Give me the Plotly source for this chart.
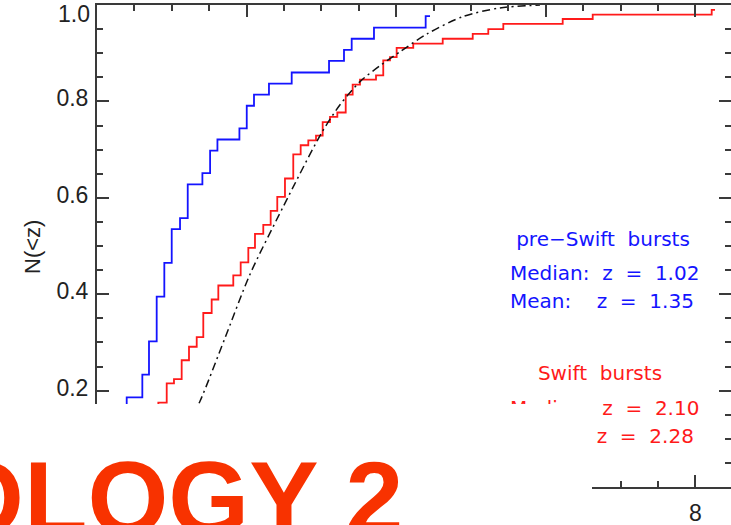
import plotly.graph_objects as go

# ---------------- data ----------------
# pre-Swift bursts: cumulative redshift distribution (step positions / levels)
pre_z = [0.01, 0.10, 0.17, 0.25, 0.34, 0.36, 0.397, 0.606, 0.695, 0.798, 0.900, 0.999,
         1.110, 1.213, 1.409, 1.512, 1.610, 1.904, 2.002, 2.099, 2.299, 2.603,
         3.102, 3.302, 3.405, 3.703, 4.394, 4.452]
pre_N = [0.023, 0.047, 0.070, 0.093, 0.116, 0.163, 0.186, 0.233, 0.302, 0.395, 0.465, 0.535,
         0.558, 0.628, 0.651, 0.698, 0.721, 0.744, 0.791, 0.814, 0.837, 0.860,
         0.884, 0.907, 0.930, 0.953, 0.977, 0.977]

# Swift bursts
swift_z = [0.03, 0.13, 0.26, 0.35, 0.44, 0.55, 0.61, 0.65, 0.70, 0.74, 0.78,
           0.82, 0.932, 1.029, 1.132, 1.230, 1.333, 1.421, 1.533, 1.622, 1.822, 1.921,
           2.023, 2.112, 2.223, 2.322, 2.410, 2.513, 2.624, 2.723, 2.825, 2.928,
           3.017, 3.115, 3.213, 3.325, 3.418, 3.516, 3.730, 3.827, 3.917, 4.006,
           4.228, 4.622, 5.023, 5.231, 5.432, 6.226, 6.627, 8.218, 8.262]
swift_N = [0.010, 0.019, 0.029, 0.039, 0.058, 0.078, 0.097, 0.117, 0.136, 0.155, 0.165,
           0.175, 0.215, 0.224, 0.263, 0.291, 0.311, 0.361, 0.389, 0.418, 0.439, 0.466,
           0.496, 0.525, 0.544, 0.573, 0.602, 0.640, 0.690, 0.709, 0.719, 0.729,
           0.757, 0.768, 0.777, 0.814, 0.835, 0.845, 0.854, 0.885, 0.892, 0.911,
           0.920, 0.930, 0.940, 0.950, 0.961, 0.971, 0.980, 0.990, 0.990]

# model curve (dash-dot)
model_z = [1.25, 1.377, 1.711, 2.045, 2.491, 3.004, 3.249, 3.516, 3.783, 4.051,
           4.412, 4.893, 5.388, 5.922]
model_N = [0.14, 0.178, 0.309, 0.441, 0.582, 0.735, 0.793, 0.841, 0.874, 0.903,
           0.940, 0.976, 0.994, 1.000]

x_tickvals = [0, 2, 4, 6, 8]
x_ticktext = ["", "", "", "", "8"]          # labels 0-6 are hidden behind the slide panel
y_tickvals = [0.0, 0.2, 0.4, 0.6, 0.8, 1.0]
y_ticktext = ["", "0.2", "0.4", "0.6", "0.8", ""]

NB = "\u00a0"
pre_labels = ["pre\u2212Swift" + NB * 2 + "bursts",
              "Median:" + NB * 2 + "z" + NB * 2 + "=" + NB * 2 + "1.02",
              "Mean:" + NB * 4 + "z" + NB * 2 + "=" + NB * 2 + "1.35"]
swift_labels = ["Swift" + NB * 2 + "bursts",
                "Median:" + NB * 2 + "z" + NB * 2 + "=" + NB * 2 + "2.10",
                "Mean:" + NB * 4 + "z" + NB * 2 + "=" + NB * 2 + "2.28"]
title_text = "COSMOLOGY 2"

# ---------------- layout geometry ----------------
W, H = 731, 525
L, R, T, B = 97, 731, 5, 487
XMAX = 8.476


def px_x(px):
    return (px - L) / (R - L)


def px_y(py):
    return (B - py) / (B - T)


def dx(px):
    return (px - L) / (R - L) * XMAX


def dy(py):
    return (B - py) / (B - T)


AX = "#3a3a3a"
BLUE = "#1414ff"
RED = "#ff1a1a"

fig = go.Figure()
fig.add_trace(go.Scatter(x=pre_z, y=pre_N, mode="lines", line=dict(color=BLUE, width=1.8, shape="hv"),
                         showlegend=False, hoverinfo="skip"))
fig.add_trace(go.Scatter(x=swift_z, y=swift_N, mode="lines", line=dict(color=RED, width=1.8, shape="hv"),
                         showlegend=False, hoverinfo="skip"))
fig.add_trace(go.Scatter(x=model_z, y=model_N, mode="lines",
                         line=dict(color="#111111", width=1.5, dash="8px,4px,2px,4px", shape="spline", smoothing=0.8),
                         showlegend=False, hoverinfo="skip"))

txt_font = dict(family="DejaVu Sans", size=20)
fig.add_trace(go.Scatter(
    x=[dx(603), dx(510), dx(510)], y=[dy(241), dy(275), dy(303)],
    mode="text", text=pre_labels, textposition=["middle center", "middle right", "middle right"],
    textfont=dict(color=BLUE, **txt_font), showlegend=False, hoverinfo="skip", cliponaxis=False))
fig.add_trace(go.Scatter(
    x=[dx(600), dx(510), dx(510)], y=[dy(375), dy(410), dy(438)],
    mode="text", text=swift_labels, textposition=["middle center", "middle right", "middle right"],
    textfont=dict(color=RED, **txt_font), showlegend=False, hoverinfo="skip", cliponaxis=False))

axis_common = dict(showline=True, linecolor=AX, linewidth=2, mirror="ticks", ticks="inside",
                   ticklen=12, tickwidth=2, tickcolor=AX, showgrid=False, zeroline=False,
                   tickfont=dict(family="Liberation Sans, Arial", size=23, color="#222222"),
                   tickmode="array", automargin=False)
fig.update_xaxes(range=[0, XMAX], tickvals=x_tickvals, ticktext=x_ticktext, ticklabelstandoff=4,
                 minor=dict(ticks="inside", ticklen=6, tickwidth=2, tickcolor=AX, dtick=0.5, tick0=0),
                 **axis_common)
fig.update_yaxes(range=[0, 1], tickvals=y_tickvals, ticktext=y_ticktext,
                 ticklabelstandoff=2, ticklabelshift=-3,
                 minor=dict(ticks="inside", ticklen=6, tickwidth=2, tickcolor=AX, dtick=0.05, tick0=0),
                 **axis_common)

# white panel covering lower-left part of the slide
fig.add_shape(type="rect", xref="paper", yref="paper",
              x0=px_x(-20), x1=px_x(592), y0=px_y(560), y1=px_y(404),
              fillcolor="white", line=dict(width=0), layer="above")

annotations = [
    dict(text="1.0", xref="paper", yref="paper", x=px_x(92), y=px_y(13.5), xanchor="right", yanchor="middle",
         showarrow=False, font=dict(family="Liberation Sans, Arial", size=23, color="#222222")),
    dict(text="N(<z)", xref="paper", yref="paper", x=px_x(32), y=px_y(247), textangle=-90,
         xanchor="center", yanchor="middle", showarrow=False,
         font=dict(family="Liberation Sans, Arial", size=22, color="#222222")),
    dict(text="<b>" + title_text + "</b>", xref="paper", yref="paper", x=px_x(405), y=px_y(438),
         xanchor="right", yanchor="top", showarrow=False,
         font=dict(family="Liberation Sans, Arial", size=104, color="#F83200")),
]
fig.update_layout(width=W, height=H, margin=dict(l=L, r=W - R, t=T, b=H - B),
                  paper_bgcolor="white", plot_bgcolor="white", annotations=annotations)

fig.write_html("out.html", config={"displayModeBar": False, "staticPlot": True},
               post_script="document.body.style.margin='0px';document.body.style.overflow='hidden';")
